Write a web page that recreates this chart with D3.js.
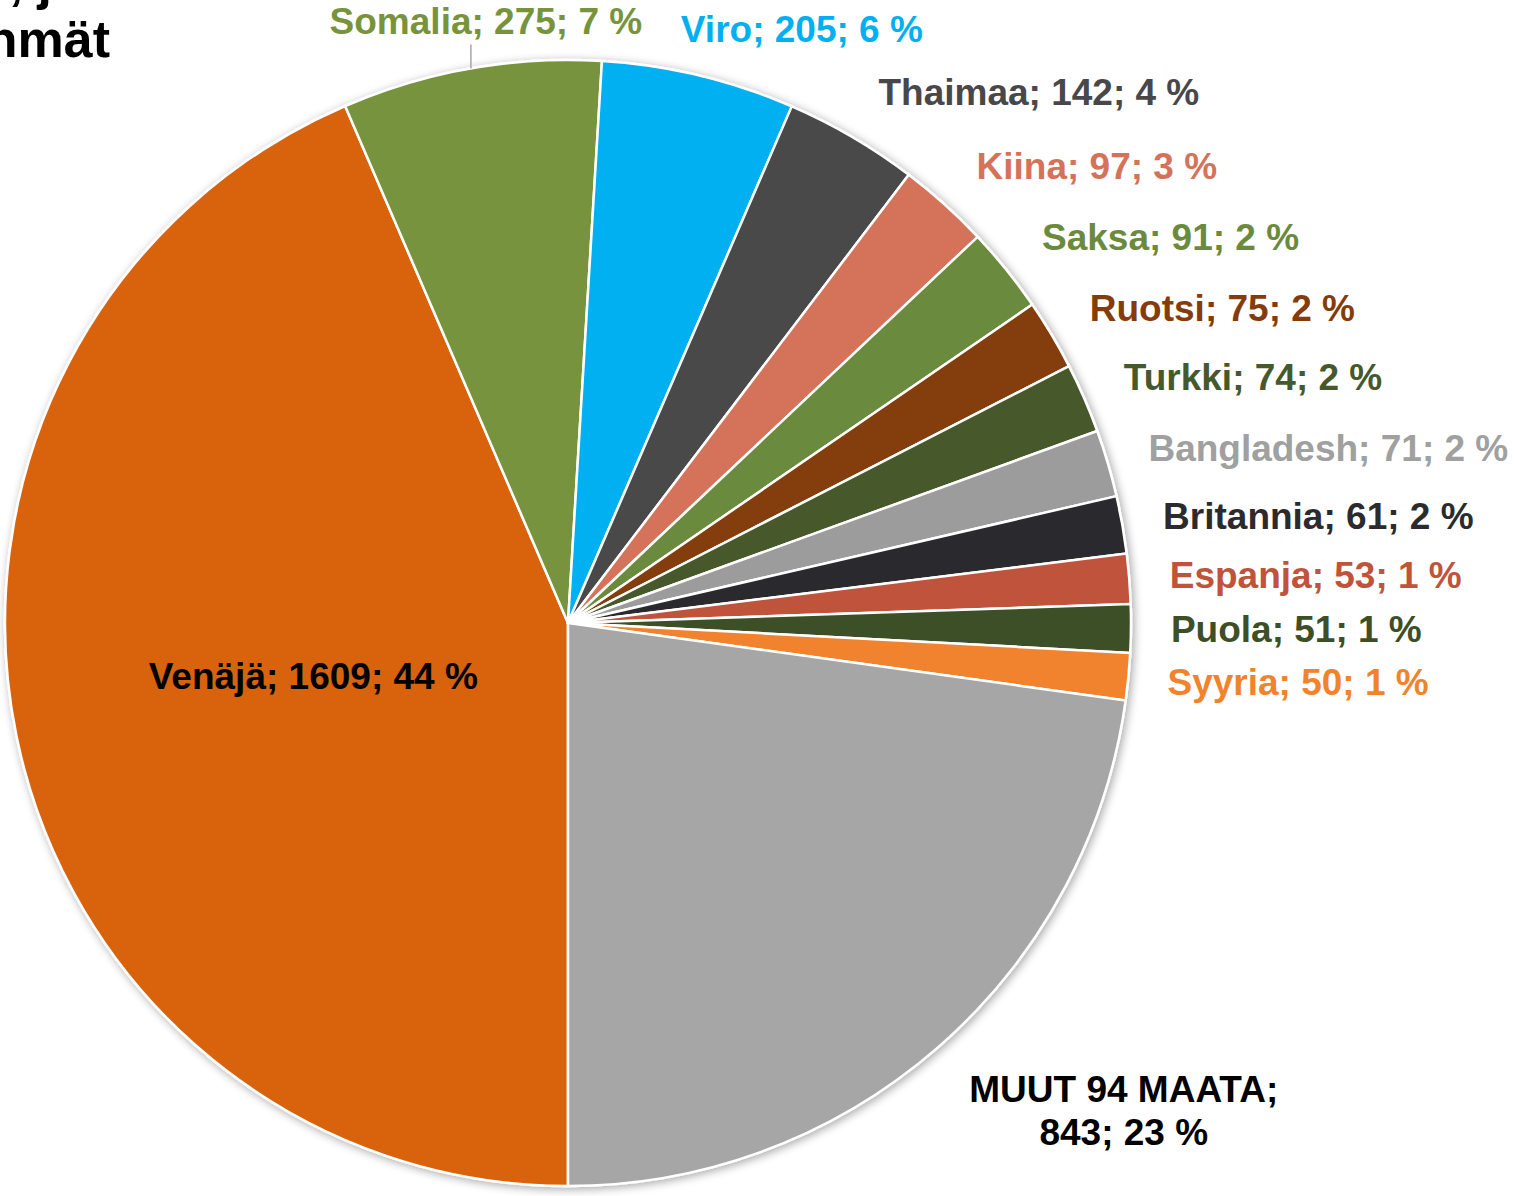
<!DOCTYPE html>
<html>
<head>
<meta charset="utf-8">
<title>pie</title>
<script src="https://d3js.org/d3.v7.min.js"></script>
<style>
  body { margin: 0; background: #fff; }
  svg text { font-family: "Liberation Sans", Arial, sans-serif; font-weight: bold; }
</style>
</head>
<body>
<div id="chart"></div>
<script>
// data
var countries = ["Venäjä", "Somalia", "Viro", "Thaimaa", "Kiina", "Saksa", "Ruotsi", "Turkki",
                 "Bangladesh", "Britannia", "Espanja", "Puola", "Syyria", "MUUT 94 MAATA"]
var counts = [1609, 275, 205, 142, 97, 91, 75, 74, 71, 61, 53, 51, 50, 843]
var percents = [44, 7, 6, 4, 3, 2, 2, 2, 2, 2, 1, 1, 1, 23]
var fills = ["#D9630E", "#77933C", "#00B0F0", "#48484A", "#D5735A", "#6A8A3E", "#843C0C", "#46592C",
             "#9C9C9C", "#2B2B2E", "#C0533A", "#3C4F27", "#F1832D", "#A6A6A6"]
var labelColors = ["#000000", "#77933C", "#00B0F0", "#48484A", "#D5735A", "#6A8A3E", "#843C0C", "#46592C",
                   "#A0A0A0", "#2B2B2E", "#C0533A", "#3C4F27", "#F1832D", "#000000"]
var titleFragments = [", j", "nmät"]

var width = 1518, height = 1196
var cx = 568, cy = 623, r = 563
var fs = 37

var svg = d3.select("#chart").append("svg")
  .attr("width", width).attr("height", height)

// soft glow round the pie
var defs = svg.append("defs")
var f = defs.append("filter").attr("id", "glow")
  .attr("x", "-5%").attr("y", "-5%").attr("width", "110%").attr("height", "110%")
f.append("feGaussianBlur").attr("in", "SourceAlpha").attr("stdDeviation", 5).attr("result", "b")
f.append("feOffset").attr("in", "b").attr("dx", 2).attr("dy", 2).attr("result", "o")
f.append("feComponentTransfer").attr("in", "o").attr("result", "s")
  .append("feFuncA").attr("type", "linear").attr("slope", 0.35)
var fm = f.append("feMerge")
fm.append("feMergeNode").attr("in", "s")
fm.append("feMergeNode").attr("in", "SourceGraphic")

var data = countries.map(function(c, i) {
  return { name: c, value: counts[i], pct: percents[i], fill: fills[i], color: labelColors[i] }
})

var pie = d3.pie().sort(null).value(function(d) { return d.value })
  .startAngle(Math.PI).endAngle(3 * Math.PI)
var arcs = pie(data)
var arc = d3.arc().innerRadius(0).outerRadius(r)

var g = svg.append("g").attr("transform", "translate(" + cx + "," + cy + ")")

g.append("g").attr("filter", "url(#glow)")
  .selectAll("path").data(arcs).enter().append("path")
  .attr("d", arc)
  .attr("fill", function(d) { return d.data.fill })
  .attr("stroke", "#fff")
  .attr("stroke-width", 2.5)
  .attr("stroke-linejoin", "round")

function mid(d) { return (d.startAngle + d.endAngle) / 2 }

var labels = g.append("g")
var labelR = 605

arcs.forEach(function(d, i) {
  var a = mid(d), s = Math.sin(a), c = Math.cos(a)  // c = upward component
  var txt = d.data.name + "; " + d.data.value + "; " + d.data.pct + " %"
  if (i === 0) {
    // inside label on the big slice
    var R = 0.462 * r
    labels.append("text")
      .attr("x", R * s).attr("y", -R * c + fs * 0.35)
      .attr("text-anchor", "middle")
      .attr("font-size", fs).attr("fill", d.data.color)
      .text(txt)
    return
  }
  var px = labelR * s, py = -labelR * c
  if (d.data.name.indexOf("MUUT") === 0) {
    // two-line label, box top-left at the ray point
    var t = labels.append("text").attr("font-size", fs).attr("fill", d.data.color)
      .attr("text-anchor", "middle")
    var l1 = t.append("tspan").text(d.data.name + ";")
    var w = l1.node().getComputedTextLength()
    l1.attr("x", px + w / 2 + 4).attr("y", py + fs * 0.62)
    t.append("tspan").attr("x", px + w / 2 + 4).attr("y", py + fs * 0.62 + fs * 1.16)
      .text(d.data.value + "; " + d.data.pct + " %")
    return
  }
  if (Math.abs(s) < 0.3) {
    // top labels, moved above the pie
    var ex = r * s, ey = -r * c
    var tx, base
    if (i === 1) {
      tx = ex + 15; base = ey - 34
      labels.append("line")
        .attr("x1", ex).attr("y1", ey).attr("x2", ex).attr("y2", base + 10)
        .attr("stroke", "#A6A6A6").attr("stroke-width", 1.5)
    } else {
      tx = ex + 103; base = ey - 33
    }
    labels.append("text")
      .attr("x", tx).attr("y", base)
      .attr("text-anchor", "middle")
      .attr("font-size", fs).attr("fill", d.data.color)
      .text(txt)
    return
  }
  labels.append("text")
    .attr("x", px + 8 * c - 2).attr("y", py - 10 * c + fs * 0.35)
    .attr("text-anchor", "start")
    .attr("font-size", fs).attr("fill", d.data.color)
    .text(txt)
})

// cropped title in the top-left corner
svg.append("text").attr("x", 52).attr("y", -1).attr("text-anchor", "end")
  .attr("font-size", 52).attr("fill", "#000").text(titleFragments[0])
svg.append("text").attr("x", 110).attr("y", 57).attr("text-anchor", "end")
  .attr("font-size", 52).attr("fill", "#000").text(titleFragments[1])
</script>
</body>
</html>
